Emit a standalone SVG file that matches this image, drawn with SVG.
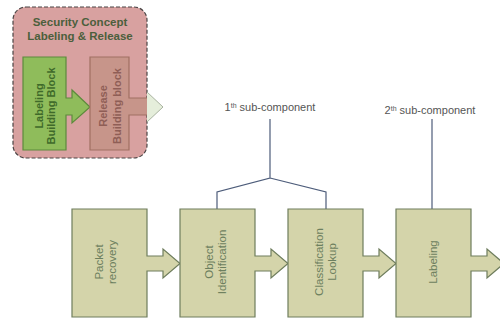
<svg xmlns="http://www.w3.org/2000/svg" width="500" height="322" viewBox="0 0 500 322">
<style>
.blk{fill:#d4d4aa;stroke:#6e7d5d;stroke-width:1.2}
.btxt{font-family:"Liberation Sans",Arial,sans-serif;font-size:11.5px;fill:#6d7f5e;text-anchor:middle}
.conn{fill:none;stroke:#4d5c7a;stroke-width:1.2}
.sub{font-family:"Liberation Sans",Arial,sans-serif;font-size:11px;fill:#555555;text-anchor:middle}
.title{font-family:"Liberation Sans",Arial,sans-serif;font-size:11.5px;font-weight:bold;fill:#4b5f3c;text-anchor:middle}
.gtxt{font-family:"Liberation Sans",Arial,sans-serif;font-size:11px;font-weight:bold;fill:#3f6a2a;text-anchor:middle}
.rtxt{font-family:"Liberation Sans",Arial,sans-serif;font-size:11px;font-weight:bold;fill:#8f5e56;text-anchor:middle}
</style>
<rect width="500" height="322" fill="#ffffff"/>
<g id="security-concept">
<rect x="13" y="7" width="134" height="151" rx="13" fill="#d8a1a0" stroke="#4a4444" stroke-width="1.2" stroke-dasharray="4,2"/>
<text class="title" x="80" y="26">Security Concept</text>
<text class="title" x="80" y="39.5">Labeling &amp; Release</text>
</g>
<g id="labeling-building-block">
<path d="M23,57 H66 V98 H72 V90 L90,107 L72,123 V115 H66 V150 H23 Z" fill="#8fbc5b" stroke="#5d8a3c" stroke-width="1.2"/>
<text class="gtxt" transform="translate(44.5,106) rotate(-90)"><tspan x="0" y="-2">Labeling</tspan><tspan x="0" y="10">Building Block</tspan></text>
</g>
<g id="release-building-block">
<path d="M90,57 H129 V98 H147 V115 H129 V150 H90 Z" fill="#c7958a" stroke="none"/>
<path d="M147,98 H129 V57 H90 V150 H129 V115 H147" fill="none" stroke="#a07062" stroke-width="1.2"/>
<path d="M147,92 L163,107 L147,122 Z" fill="#e5eedb" stroke="none"/>
<path d="M147,92 L163,107 L147,122" fill="none" stroke="#a9b3a0" stroke-width="1"/>
<text class="rtxt" transform="translate(109.5,106) rotate(-90)"><tspan x="0" y="-2.5">Release</tspan><tspan x="0" y="11">Building block</tspan></text>
</g>
<g id="connectors">
<path class="conn" d="M270,119 V178 L217,192 V209 M270,178 L326,192 V209"/>
<path class="conn" d="M432,119 V209"/>
</g>
<g id="sub1">
<text class="sub" x="270" y="111">1<tspan font-size="7" baseline-shift="super">th</tspan> sub-component</text>
</g>
<g id="sub2">
<text class="sub" x="430" y="114">2<tspan font-size="7" baseline-shift="super">th</tspan> sub-component</text>
</g>
<g id="packet-recovery">
<path class="blk" d="M72,209 H147 V256 H163 V249 L180,263.5 L163,278 V271 H147 V317 H72 Z"/>
<text class="btxt" transform="translate(105,262) rotate(-90)"><tspan x="0" y="-2.5">Packet</tspan><tspan x="0" y="10.5">recovery</tspan></text>
</g>
<g id="object-identification">
<path class="blk" d="M180,209 H255 V256 H271 V249 L288,263.5 L271,278 V271 H255 V317 H180 Z"/>
<text class="btxt" transform="translate(215.5,262) rotate(-90)"><tspan x="0" y="-2.5">Object</tspan><tspan x="0" y="10.5">Identification</tspan></text>
</g>
<g id="classification-lookup">
<path class="blk" d="M288,209 H363 V256 H379 V249 L396,263.5 L379,278 V271 H363 V317 H288 Z"/>
<text class="btxt" transform="translate(325,262) rotate(-90)"><tspan x="0" y="-2.5">Classification</tspan><tspan x="0" y="10.5">Lookup</tspan></text>
</g>
<g id="labeling">
<path class="blk" d="M396,209 H471 V256 H487 V249 L504,263.5 L487,278 V271 H471 V317 H396 Z"/>
<text class="btxt" transform="translate(433,262) rotate(-90)"><tspan x="0" y="4">Labeling</tspan></text>
</g>
</svg>
